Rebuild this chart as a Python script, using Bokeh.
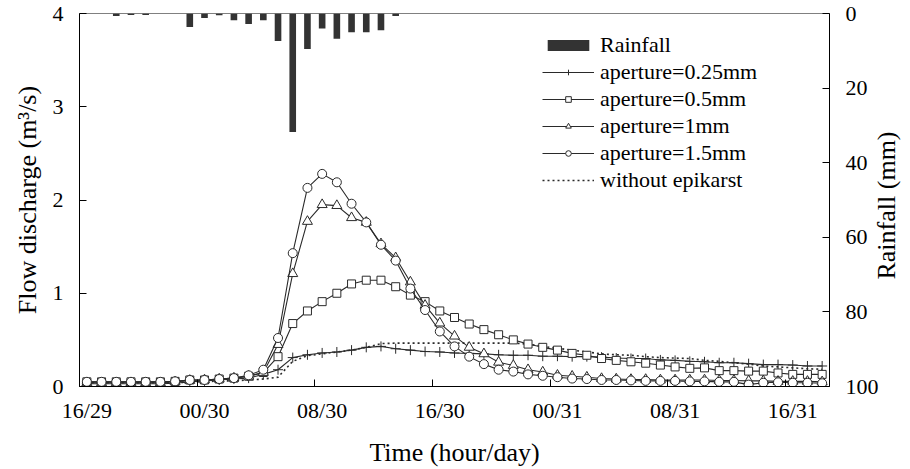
import math
from bokeh.plotting import figure
from bokeh.models import (Range1d, LinearAxis, FixedTicker, Legend, LegendItem, Label)
from bokeh.embed import file_html
from bokeh.resources import INLINE

# hourly steps, starting 16:00 on day 29 (51 hours)
hour_index = [0, 1, 2, 3, 4, 5, 6, 7, 8, 9, 10, 11, 12, 13, 14, 15, 16, 17, 18, 19,
              20, 21, 22, 23, 24, 25, 26, 27, 28, 29, 30, 31, 32, 33, 34, 35, 36, 37, 38, 39,
              40, 41, 42, 43, 44, 45, 46, 47, 48, 49, 50]
tick_hours = [0, 8, 16, 24, 32, 40, 48]
tick_labels = ["16/29", "00/30", "08/30", "16/30", "00/31", "08/31", "16/31"]

rainfall = [0, 0, 0.7, 0.4, 0.4, 0, 0, 3.6, 1.2, 0.5, 1.8, 2.8, 1.8, 7.4, 31.8, 9.5, 4.0,
            6.8, 5.0, 5.0, 4.5, 0.7, 0, 0, 0, 0, 0, 0, 0, 0, 0, 0, 0, 0, 0, 0, 0, 0, 0, 0,
            0, 0, 0, 0, 0, 0, 0, 0, 0, 0, 0]

ap_025 = [0.03, 0.03, 0.03, 0.03, 0.03, 0.03, 0.035, 0.05, 0.06, 0.07, 0.08, 0.09, 0.13,
          0.18, 0.31, 0.34, 0.36, 0.37, 0.39, 0.42, 0.43, 0.405, 0.39, 0.375, 0.37, 0.36,
          0.355, 0.35, 0.34, 0.335, 0.335, 0.325, 0.325, 0.32, 0.32, 0.315, 0.305, 0.30,
          0.30, 0.285, 0.28, 0.27, 0.265, 0.255, 0.255, 0.245, 0.235, 0.235, 0.23, 0.22, 0.22]

ap_05 = [0.05, 0.05, 0.05, 0.05, 0.05, 0.05, 0.055, 0.07, 0.07, 0.08, 0.09, 0.11, 0.15,
         0.32, 0.675, 0.81, 0.91, 1.0, 1.10, 1.14, 1.14, 1.07, 0.98, 0.91, 0.81, 0.74,
         0.67, 0.61, 0.555, 0.50, 0.455, 0.42, 0.39, 0.355, 0.335, 0.30, 0.28, 0.265,
         0.25, 0.23, 0.21, 0.195, 0.20, 0.17, 0.17, 0.165, 0.165, 0.145, 0.13, 0.13, 0.13]

ap_1 = [0.04, 0.04, 0.04, 0.04, 0.04, 0.04, 0.05, 0.065, 0.07, 0.08, 0.09, 0.11, 0.15,
        0.45, 1.21, 1.77, 1.95, 1.94, 1.81, 1.76, 1.53, 1.38, 1.12, 0.87, 0.68, 0.54,
        0.42, 0.35, 0.26, 0.225, 0.18, 0.155, 0.12, 0.11, 0.10, 0.085, 0.08, 0.075,
        0.075, 0.07, 0.07, 0.07, 0.07, 0.065, 0.065, 0.06, 0.06, 0.055, 0.055, 0.055, 0.05]

ap_15 = [0.05, 0.05, 0.05, 0.05, 0.05, 0.05, 0.055, 0.07, 0.07, 0.08, 0.09, 0.12, 0.18,
         0.52, 1.43, 2.13, 2.28, 2.19, 1.96, 1.76, 1.52, 1.35, 1.05, 0.82, 0.59, 0.43,
         0.32, 0.24, 0.18, 0.16, 0.13, 0.115, 0.10, 0.085, 0.08, 0.07, 0.07, 0.065,
         0.06, 0.06, 0.06, 0.055, 0.055, 0.05, 0.05, 0.02, 0.04, 0.045, 0.04, 0.04, 0.035]

no_epikarst = [0.04, 0.04, 0.04, 0.04, 0.04, 0.04, 0.04, 0.05, 0.05, 0.06, 0.06, 0.07,
               0.08, 0.10, 0.27, 0.33, 0.35, 0.37, 0.39, 0.42, 0.46, 0.465, 0.465, 0.465,
               0.465, 0.465, 0.465, 0.465, 0.465, 0.465, 0.455, 0.43, 0.41, 0.39, 0.37,
               0.35, 0.34, 0.335, 0.32, 0.31, 0.305, 0.30, 0.28, 0.27, 0.255, 0.24, 0.22,
               0.21, 0.20, 0.19, 0.185]

FONT = "Liberation Serif"
INK = "#2a2a2a"

# category centres (Excel-style category axis)
xc = [h + 0.5 for h in hour_index]

p = figure(width=910, height=469, output_backend="svg", toolbar_location=None,
           x_range=Range1d(0, len(hour_index)), y_range=Range1d(0, 4),
           min_border_left=79, min_border_right=78, min_border_top=13, min_border_bottom=80)
p.background_fill_color = "white"
p.border_fill_color = "white"
p.outline_line_color = "#808080"
p.outline_line_width = 1
p.xgrid.visible = False
p.ygrid.visible = False

p.extra_y_ranges = {"rain": Range1d(100, 0)}

# rainfall bars hanging from the top
bars = p.vbar(x=xc, top=[0] * len(rainfall), bottom=rainfall, width=0.45,
              y_range_name="rain", fill_color="#333333", line_color=None)

def series(vals, marker, size, dash="solid", lw=1.1):
    ln = p.line(xc, vals, line_color=INK, line_width=lw, line_dash=dash)
    if marker is None:
        return [ln]
    sc = p.scatter(xc, vals, marker=marker, size=size, line_color=INK,
                   fill_color="white", line_width=1.0)
    return [ln, sc]

r_ne = series(no_epikarst, None, 0, dash="2 3", lw=1.6)
r_025 = series(ap_025, "cross", 10)
r_05 = series(ap_05, "square", 8)
r_1 = series(ap_1, "triangle", 10)
r_15 = series(ap_15, "circle", 9)

# ---- axes ----
xa = p.xaxis[0]
xa.ticker = FixedTicker(ticks=tick_hours)
xa.major_label_overrides = {t: "" for t in tick_hours}
xa.major_tick_in = 7
xa.major_tick_out = 0
xa.minor_tick_line_color = None
xa.major_label_standoff = 0
xa.axis_line_color = "black"
xa.major_tick_line_color = "black"
xa.major_label_text_font_size = "1px"

xlab = LinearAxis(ticker=FixedTicker(ticks=[t + 0.5 for t in tick_hours]),
                  major_label_overrides={t + 0.5: l for t, l in zip(tick_hours, tick_labels)})
xlab.axis_line_color = None
xlab.major_tick_line_color = None
xlab.minor_tick_line_color = None
xlab.major_tick_in = 0
xlab.major_tick_out = 0
xlab.major_label_standoff = 11
xlab.major_label_text_font = FONT
xlab.major_label_text_font_size = "22px"
xlab.major_label_text_color = "black"
xlab.axis_label = "Time (hour/day)"
xlab.axis_label_text_font = FONT
xlab.axis_label_text_font_size = "26px"
xlab.axis_label_text_font_style = "normal"
xlab.axis_label_text_color = "black"
xlab.axis_label_standoff = 12
p.add_layout(xlab, "below")

ya = p.yaxis[0]
ya.ticker = FixedTicker(ticks=[0, 1, 2, 3, 4])
ya.major_tick_in = 7
ya.major_tick_out = 0
ya.minor_tick_line_color = None
ya.major_label_standoff = 16
ya.major_label_text_font = FONT
ya.major_label_text_font_size = "22px"
ya.major_label_text_color = "black"
ya.axis_line_color = "black"
ya.axis_label = "Flow discharge (m\u00b3/s)"
ya.axis_label_text_font = FONT
ya.axis_label_text_font_size = "26px"
ya.axis_label_text_font_style = "normal"
ya.axis_label_text_color = "black"
ya.axis_label_standoff = 8

ra = LinearAxis(y_range_name="rain", ticker=FixedTicker(ticks=[0, 20, 40, 60, 80, 100]))
ra.major_tick_in = 7
ra.major_tick_out = 0
ra.minor_tick_line_color = None
ra.major_label_standoff = 16
ra.major_label_text_font = FONT
ra.major_label_text_font_size = "22px"
ra.major_label_text_color = "black"
ra.axis_line_color = "black"
p.add_layout(ra, "right")

# right-hand title, reading bottom-to-top, placed in the right border panel
p.add_layout(Label(x=5, y=181, x_units="screen", y_units="screen", text="Rainfall (mm)",
                   angle=math.pi / 2, text_align="center", text_baseline="middle",
                   text_font=FONT, text_font_size="26px", text_color="black"), "right")

legend = Legend(items=[
    LegendItem(label="Rainfall", renderers=[bars]),
    LegendItem(label="aperture=0.25mm", renderers=r_025),
    LegendItem(label="aperture=0.5mm", renderers=r_05),
    LegendItem(label="aperture=1mm", renderers=r_1),
    LegendItem(label="aperture=1.5mm", renderers=r_15),
    LegendItem(label="without epikarst", renderers=r_ne),
], location=(463, 193))
legend.glyph_width = 52
legend.glyph_height = 14
legend.label_standoff = 6
legend.spacing = 1
legend.padding = 0
legend.margin = 0
legend.border_line_color = None
legend.background_fill_alpha = 0
legend.label_text_font = FONT
legend.label_text_font_size = "22px"
legend.label_text_color = "black"
p.add_layout(legend, "center")

open("out.html", "w").write(file_html(p, INLINE))
